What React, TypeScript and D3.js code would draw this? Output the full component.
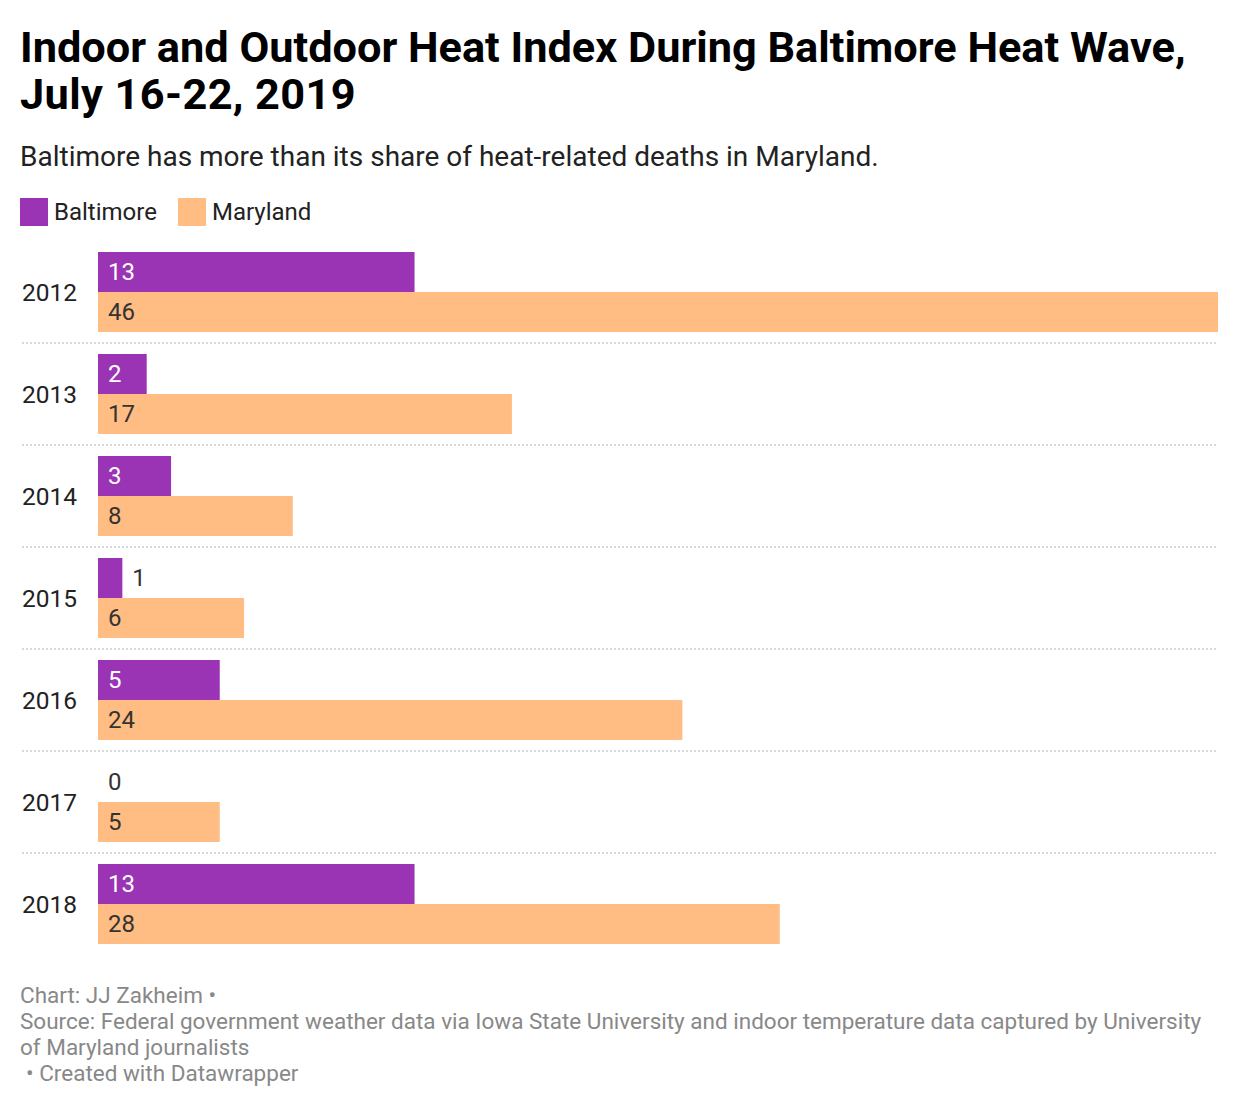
import React from "react";
import * as d3 from "d3";

const years = ["2012", "2013", "2014", "2015", "2016", "2017", "2018"];
const seriesNames = ["Baltimore", "Maryland"];
const baltimore = [13, 2, 3, 1, 5, 0, 13];
const maryland = [46, 17, 8, 6, 24, 5, 28];

const colors = ["#9b33b5", "#ffbc83"];
const labelColors = ["#ffffff", "#333333"];

const W = 1240;
const H = 1108;
const FONT = "Roboto, sans-serif";

export default function App() {
  const x = d3.scaleLinear().domain([0, d3.max(maryland) as number]).range([98, 1218]);
  const y = d3
    .scaleBand<string>()
    .domain(years)
    .range([241, 955])
    .paddingInner(22 / 102)
    .paddingOuter(11 / 102);
  const inner = d3.scaleBand<string>().domain(seriesNames).range([0, y.bandwidth()]);

  const values = [baltimore, maryland];

  return (
    <div style={{ position: "absolute", left: 0, top: 0 }}>
      <svg width={W} height={H} style={{ display: "block", fontFamily: FONT }}>
        <rect width={W} height={H} fill="#fff" />
        <text x={20} y={62} fontSize={43.3} fontWeight={700} fill="#000">
          Indoor and Outdoor Heat Index During Baltimore Heat Wave,
        </text>
        <text x={20} y={109} fontSize={43.3} fontWeight={700} fill="#000" letterSpacing={0.4}>
          July 16-22, 2019
        </text>
        <text x={20} y={166} fontSize={28} fill="#222">
          Baltimore has more than its share of heat-related deaths in Maryland.
        </text>

        {/* legend */}
        {seriesNames.map((name, i) => {
          const lx = i === 0 ? 20 : 178;
          return (
            <g key={name}>
              <rect x={lx} y={198} width={28} height={28} fill={colors[i]} />
              <text x={lx + 34} y={220} fontSize={24} fill="#222">
                {name}
              </text>
            </g>
          );
        })}

        {/* separators */}
        {years.slice(0, -1).map((yr) => {
          const sy = (y(yr) as number) + y.bandwidth() + 11;
          return (
            <line
              key={"sep" + yr}
              x1={22}
              x2={1218}
              y1={sy}
              y2={sy}
              stroke="#d8d8d8"
              strokeWidth={2}
              strokeDasharray="2,2"
            />
          );
        })}

        {years.map((yr, r) => {
          const y0 = y(yr) as number;
          return (
            <g key={yr}>
              <text
                x={22}
                y={y0 + y.bandwidth() / 2}
                dy="0.35em"
                fontSize={24.5}
                fill="#222"
              >
                {yr}
              </text>
              {seriesNames.map((name, i) => {
                const v = values[i][r];
                const by = y0 + (inner(name) as number);
                const bw = x(v) - x(0);
                const inside = bw > 40;
                return (
                  <g key={name}>
                    {v > 0 && (
                      <rect x={x(0)} y={by} width={bw} height={inner.bandwidth()} fill={colors[i]} />
                    )}
                    <text
                      x={inside || v === 0 ? x(0) + 10 : x(v) + 10}
                      y={by + inner.bandwidth() / 2}
                      dy="0.35em"
                      fontSize={24}
                      fill={inside ? labelColors[i] : "#333"}
                    >
                      {v}
                    </text>
                  </g>
                );
              })}
            </g>
          );
        })}

        {/* footer */}
        <g fontSize={22.5} fill="#888">
          <text x={20} y={1003}>Chart: JJ Zakheim •</text>
          <text x={20} y={1029}>
            Source: Federal government weather data via Iowa State University and indoor temperature data captured by University
          </text>
          <text x={20} y={1055}>of Maryland journalists</text>
          <text x={26} y={1081}>• Created with Datawrapper</text>
        </g>
      </svg>
    </div>
  );
}
